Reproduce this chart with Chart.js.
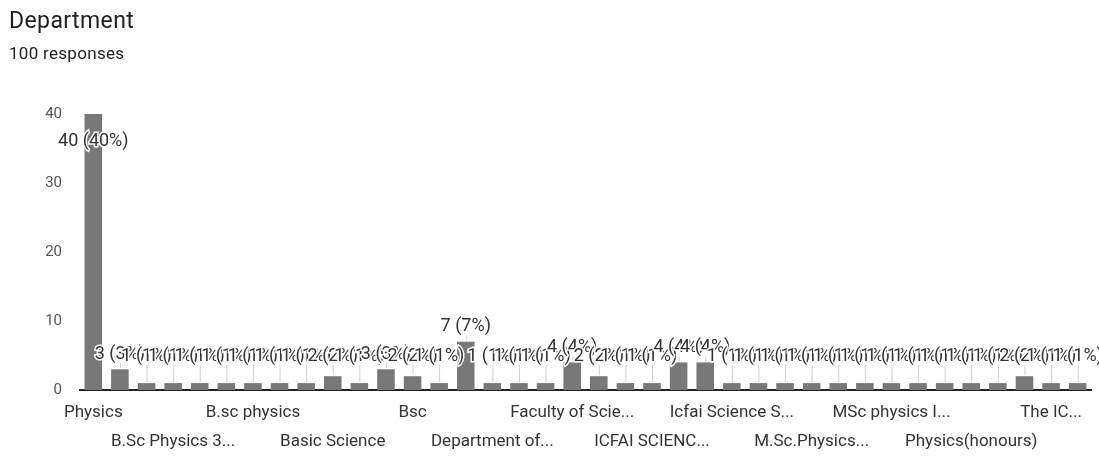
<!DOCTYPE html>
<html>
<head>
<meta charset="utf-8">
<script src="https://cdn.jsdelivr.net/npm/chart.js@4.4.1/dist/chart.umd.min.js"></script>
<style>
  html, body { margin: 0; padding: 0; background: #fff; }
  #wrap { position: relative; width: 1099px; height: 465px; font-family: Roboto, "Noto Sans", sans-serif; }
  #title { position: absolute; left: 9px; top: 7px; font-size: 23px; color: #202124; letter-spacing: 0.4px; }
  #sub { position: absolute; left: 9px; top: 43px; font-size: 17px; color: #202124; letter-spacing: 0.3px; }
  #box { position: absolute; left: 0; top: 0; width: 1099px; height: 465px; }
</style>
</head>
<body>
<div id="wrap">
  <div id="box"><canvas id="deptChart"></canvas></div>
  <div id="title">Department</div>
  <div id="sub">100 responses</div>
</div>
<script>
// answers, in the order the form shows them (only every third name is readable)
const categories = [
    'Physics', '', '', 'B.Sc Physics 3...', '', '', 'B.sc physics', '', '',
    'Basic Science', '', '', 'Bsc', '', '', 'Department of...', '', '',
    'Faculty of Scie...', '', '', 'ICFAI SCIENC...', '', '', 'Icfai Science S...', '', '',
    'M.Sc.Physics...', '', '', 'MSc physics I...', '', '', 'Physics(honours)', '', '',
    'The IC...', ''
];
const counts = [
    40, 3, 1, 1, 1, 1, 1, 1, 1,
    2, 1, 3, 2, 1, 7, 1, 1, 1,
    4, 2, 1, 1, 4, 4, 1, 1, 1,
    1, 1, 1, 1, 1, 1, 1, 1, 2,
    1, 1
];
const yTicks = [0, 10, 20, 30, 40];
const total = counts.reduce((a, b) => a + b, 0);

// "n (p%)" labels above each bar, like the forms summary
const barLabels = {
    id: 'barLabels',
    afterDatasetsDraw(chart) {
        const ctx = chart.ctx;
        const yScale = chart.scales.y;
        const base = yScale.getPixelForValue(0);
        const bars = chart.getDatasetMeta(0).data;
        ctx.save();
        ctx.font = '18px Roboto, "Noto Sans", sans-serif';
        ctx.textAlign = 'center';
        ctx.textBaseline = 'middle';
        bars.forEach((bar, i) => {
            const v = counts[i];
            const txt = v + ' (' + Math.round(v / total * 100) + '%)';
            let ty;
            if (v >= 30) {
                ty = bar.y + 27;
            } else {
                ty = Math.min(bar.y - 15, base - 34);
                if (bar.y - (ty + 9) > 4) {
                    ctx.strokeStyle = '#d0d0d0';
                    ctx.lineWidth = 1;
                    ctx.beginPath();
                    ctx.moveTo(bar.x + 0.5, ty + 9);
                    ctx.lineTo(bar.x + 0.5, bar.y - 1);
                    ctx.stroke();
                }
            }
            ctx.lineWidth = 3;
            ctx.strokeStyle = '#fff';
            ctx.strokeText(txt, bar.x, ty);
            ctx.fillStyle = '#333';
            ctx.fillText(txt, bar.x, ty);
        });
        ctx.restore();
    }
};

new Chart(document.getElementById('deptChart').getContext('2d'), {
    type: 'bar',
    data: {
        labels: categories,
        datasets: [{
            data: counts,
            backgroundColor: '#787878',
            barPercentage: 0.66,
            categoryPercentage: 1
        }]
    },
    options: {
        responsive: true,
        maintainAspectRatio: false,
        animation: false,
        layout: { padding: { top: 114, left: 30, right: 8, bottom: 0 } },
        plugins: {
            legend: { display: false },
            tooltip: { enabled: false }
        },
        scales: {
            x: {
                grid: { display: false },
                border: { display: true, color: '#222', width: 2 },
                afterFit: function (axis) { axis.height = 75; },
                ticks: {
                    autoSkip: false,
                    maxRotation: 0,
                    minRotation: 0,
                    color: '#333',
                    padding: 0,
                    font: { family: 'Roboto', size: 17, lineHeight: 1.7 },
                    callback: function (val, idx) {
                        if (idx % 3 !== 0) return '';
                        const name = categories[idx];
                        return (idx / 3) % 2 === 1 ? ['', name] : name;
                    }
                }
            },
            y: {
                min: 0,
                max: 40,
                grid: { display: false },
                border: { display: false },
                afterFit: function (axis) { axis.width = 50; },
                afterBuildTicks: function (axis) {
                    axis.ticks = yTicks.map(v => ({ value: v }));
                },
                ticks: {
                    color: '#555',
                    padding: 10,
                    font: { family: 'Roboto', size: 15 }
                }
            }
        }
    },
    plugins: [barLabels]
});
</script>
</body>
</html>
